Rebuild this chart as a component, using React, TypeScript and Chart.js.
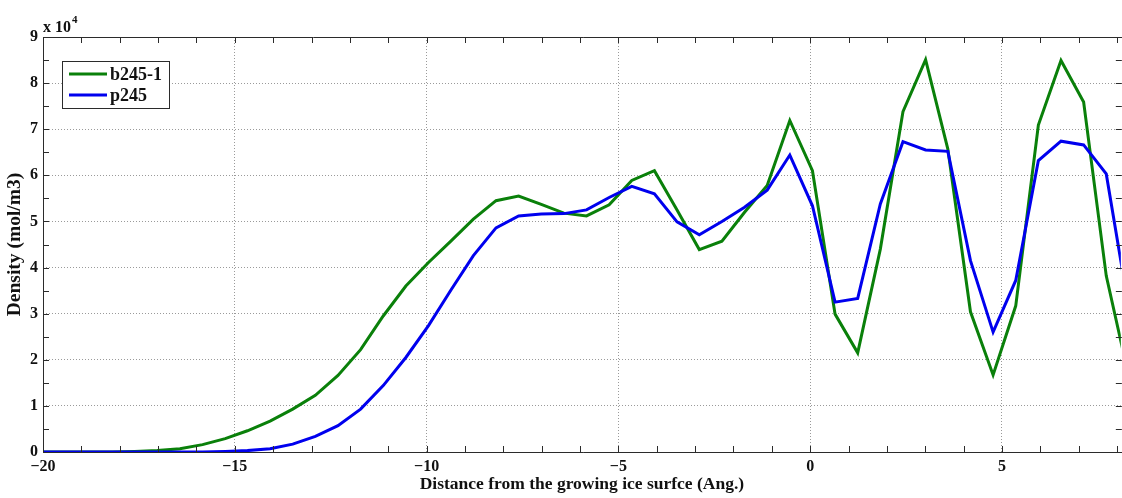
import React, { useEffect, useRef } from "react";
import { Chart, registerables } from "chart.js";

Chart.register(...registerables);

// Distance from the growing ice surface (Ang.)
const distance = [
  -20.56, -19.97, -19.38, -18.79, -18.2, -17.61, -17.02, -16.43, -15.84, -15.25,
  -14.67, -14.08, -13.49, -12.9, -12.31, -11.72, -11.13, -10.54, -9.95, -9.36,
  -8.78, -8.19, -7.6, -7.01, -6.42, -5.83, -5.24, -4.65, -4.06, -3.47,
  -2.89, -2.3, -1.71, -1.12, -0.53, 0.06, 0.65, 1.24, 1.83, 2.42,
  3.01, 3.59, 4.18, 4.77, 5.36, 5.95, 6.54, 7.13, 7.72, 8.31,
];

// Density (mol/m3)
const b245_1 = [
  0, 0, 0, 0, 0, 100, 300, 700, 1600, 2900,
  4600, 6700, 9300, 12300, 16600, 22200, 29500, 36000, 41100, 45800,
  50500, 54500, 55500, 53700, 51800, 51200, 53600, 58900, 61000, 52500,
  43900, 45700, 52000, 57800, 71900, 61000, 29900, 21500, 44000, 73800,
  85100, 65700, 30400, 16700, 31700, 70900, 84900, 75900, 38200, 16200,
];

const p245 = [
  0, 0, 0, 0, 0, 0, 0, 0, 0, 100,
  300, 700, 1700, 3400, 5700, 9300, 14400, 20500, 27400, 35200,
  42600, 48600, 51200, 51600, 51700, 52500, 55200, 57600, 56000, 49900,
  47100, 50000, 53100, 56800, 64400, 53400, 32500, 33300, 53800, 67300,
  65500, 65200, 41500, 26000, 37200, 63200, 67400, 66600, 60300, 31000,
];

const seriesNames = ["b245-1", "p245"];
const seriesColors = ["#0a800a", "#0000ee"];
const xTitle = "Distance from the growing ice surfce (Ang.)";
const yTitle = "Density (mol/m3)";

const FONT = "'Liberation Serif', 'Times New Roman', serif";
const AXIS_COLOR = "#2b2b2b";

const matlabAxes = {
  id: "matlabAxes",
  afterDatasetsDraw(chart: any) {
    const { ctx, chartArea, scales } = chart;
    const xs = scales.x;
    const ys = scales.y;
    const { left, right, top, bottom } = chartArea;
    ctx.save();
    ctx.strokeStyle = AXIS_COLOR;
    ctx.lineWidth = 1;
    // frame (right edge lies just outside the picture)
    ctx.beginPath();
    ctx.moveTo(right + 2, top + 0.5);
    ctx.lineTo(left + 0.5, top + 0.5);
    ctx.lineTo(left + 0.5, bottom + 0.5);
    ctx.lineTo(right + 2, bottom + 0.5);
    ctx.stroke();
    // inward ticks
    ctx.beginPath();
    for (let v = -20; v <= 8; v += 1) {
      const px = Math.round(xs.getPixelForValue(v)) + 0.5;
      ctx.moveTo(px, bottom);
      ctx.lineTo(px, bottom - 6);
      ctx.moveTo(px, top);
      ctx.lineTo(px, top + 6);
    }
    for (let v = 0; v <= 90000; v += 5000) {
      const py = Math.round(ys.getPixelForValue(v)) + 0.5;
      ctx.moveTo(left, py);
      ctx.lineTo(left + 6, py);
      ctx.moveTo(right + 1, py);
      ctx.lineTo(right - 5, py);
    }
    ctx.stroke();

    // exponent label
    ctx.fillStyle = "#111";
    ctx.font = `bold 16px ${FONT}`;
    ctx.textBaseline = "alphabetic";
    ctx.textAlign = "left";
    ctx.fillText("x 10", left, top - 5);
    const w = ctx.measureText("x 10").width;
    ctx.font = `bold 11px ${FONT}`;
    ctx.fillText("4", left + w + 1, top - 14);

    // legend
    const lx = 62, ly = 61, lw = 107, lh = 47;
    ctx.fillStyle = "#ffffff";
    ctx.fillRect(lx, ly, lw, lh);
    ctx.strokeStyle = AXIS_COLOR;
    ctx.lineWidth = 1;
    ctx.strokeRect(lx + 0.5, ly + 0.5, lw, lh);
    const rows = [74, 95];
    ctx.font = `bold 18px ${FONT}`;
    ctx.textBaseline = "middle";
    for (let i = 0; i < seriesNames.length; i++) {
      ctx.strokeStyle = seriesColors[i];
      ctx.lineWidth = 3;
      ctx.beginPath();
      ctx.moveTo(69, rows[i]);
      ctx.lineTo(107, rows[i]);
      ctx.stroke();
      ctx.fillStyle = "#111";
      ctx.fillText(seriesNames[i], 110, rows[i] + 1);
    }
    ctx.restore();
  },
};

const fmt = (v: number) => String(v).replace("-", "\u2212");

export default function App() {
  const canvasRef = useRef<HTMLCanvasElement | null>(null);

  useEffect(() => {
    document.body.style.margin = "0";
    const canvas = canvasRef.current;
    if (!canvas) return;
    const toPoints = (vals: number[]) => distance.map((x, i) => ({ x, y: vals[i] }));
    const chart = new Chart(canvas, {
      type: "line",
      data: {
        datasets: [
          {
            label: seriesNames[0],
            data: toPoints(b245_1),
            borderColor: seriesColors[0],
            backgroundColor: seriesColors[0],
            borderWidth: 3,
            pointRadius: 0,
            tension: 0,
            order: 1,
          },
          {
            label: seriesNames[1],
            data: toPoints(p245),
            borderColor: seriesColors[1],
            backgroundColor: seriesColors[1],
            borderWidth: 3,
            pointRadius: 0,
            tension: 0,
            order: 0,
          },
        ],
      },
      options: {
        animation: false,
        responsive: false,
        devicePixelRatio: 1,
        layout: { padding: { top: 37, right: 0, left: 0, bottom: 0 } },
        plugins: {
          legend: { display: false },
          tooltip: { enabled: false },
        },
        scales: {
          x: {
            type: "linear",
            min: -20,
            max: 8.1,
            afterFit: (s: any) => {
              s.height = 46;
            },
            ticks: {
              stepSize: 1,
              includeBounds: false,
              autoSkip: false,
              maxRotation: 0,
              padding: 5,
              color: "#111",
              font: { family: FONT, size: 16, weight: "bold" },
              callback: (v: any) => (Number(v) % 5 === 0 ? fmt(Number(v)) : ""),
            },
            grid: {
              drawTicks: false,
              lineWidth: 1,
              color: (c: any) =>
                c.tick && c.tick.value % 5 === 0 && c.tick.value !== -20 ? "#9a9a9a" : "transparent",
            },
            border: { display: false, dash: [1, 2] },
            title: {
              display: true,
              text: xTitle,
              color: "#111",
              font: { family: FONT, size: 17.5, weight: "bold" },
              padding: { top: 0, bottom: 3 },
            },
          },
          y: {
            type: "linear",
            min: 0,
            max: 90000,
            afterFit: (s: any) => {
              s.width = 43;
            },
            ticks: {
              stepSize: 5000,
              includeBounds: false,
              autoSkip: false,
              padding: 5,
              color: "#111",
              font: { family: FONT, size: 16, weight: "bold" },
              callback: (v: any) => (Number(v) % 10000 === 0 ? String(Number(v) / 10000) : ""),
            },
            grid: {
              drawTicks: false,
              lineWidth: 1,
              color: (c: any) =>
                c.tick && c.tick.value % 10000 === 0 && c.tick.value !== 0 && c.tick.value !== 90000
                  ? "#9a9a9a"
                  : "transparent",
            },
            border: { display: false, dash: [1, 2] },
            title: {
              display: true,
              text: yTitle,
              color: "#111",
              font: { family: FONT, size: 19.5, weight: "bold" },
              padding: { top: 3, bottom: 0 },
            },
          },
        },
      },
      plugins: [matlabAxes],
    });
    return () => chart.destroy();
  }, []);

  return (
    <div style={{ position: "absolute", left: 0, top: 0, width: 1122, height: 498, background: "#fff" }}>
      <canvas ref={canvasRef} width={1122} height={498} />
    </div>
  );
}
